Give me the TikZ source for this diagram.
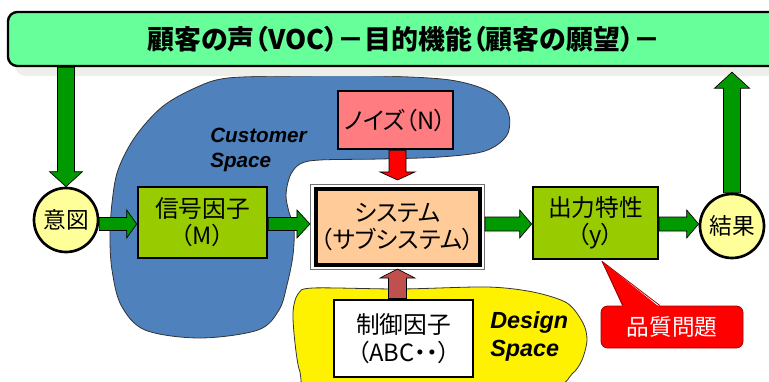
\documentclass[tikz,border=0pt]{standalone}
\usepackage{fontspec}
\setmainfont[RawFeature=+palt]{Noto Sans CJK JP}
\newfontfamily\latfont{Liberation Sans}
\usetikzlibrary{calc}
\definecolor{agreen}{HTML}{009900}
\definecolor{ygreen}{HTML}{99CC00}
\definecolor{cyellow}{HTML}{FFFF99}
\definecolor{bandc}{HTML}{66FF99}
\definecolor{shadowc}{HTML}{EFEFEA}
\definecolor{blobblue}{HTML}{4F81BD}
\definecolor{noisec}{HTML}{FF7C80}
\definecolor{sysfill}{HTML}{FFCC99}
\definecolor{brownc}{HTML}{C0504D}
\definecolor{callred}{HTML}{FF0000}
\definecolor{callborder}{HTML}{A00000}
% horizontal block arrow: start, tip, shaft half, head half, head length, style
\newcommand\harr[6]{%
  \path[#6] let \p1=(#1), \p2=(#2), \n1={sign(\x2-\x1)} in
   (\x1,{\y2+#3*0.75pt}) -- ({\x2-(\n1)*#5*0.75pt},{\y2+#3*0.75pt})
   -- ({\x2-(\n1)*#5*0.75pt},{\y2+#4*0.75pt}) -- (\x2,\y2)
   -- ({\x2-(\n1)*#5*0.75pt},{\y2-#4*0.75pt}) -- ({\x2-(\n1)*#5*0.75pt},{\y2-#3*0.75pt})
   -- (\x1,{\y2-#3*0.75pt}) -- cycle;}
% vertical block arrow
\newcommand\varr[6]{%
  \path[#6] let \p1=(#1), \p2=(#2), \n1={sign(\y2-\y1)} in
   ({\x2+#3*0.75pt},\y1) -- ({\x2+#3*0.75pt},{\y2-(\n1)*#5*0.75pt})
   -- ({\x2+#4*0.75pt},{\y2-(\n1)*#5*0.75pt}) -- (\x2,\y2)
   -- ({\x2-#4*0.75pt},{\y2-(\n1)*#5*0.75pt}) -- ({\x2-#3*0.75pt},{\y2-(\n1)*#5*0.75pt})
   -- ({\x2-#3*0.75pt},\y1) -- cycle;}
\begin{document}
\begin{tikzpicture}[x=0.75pt,y=-0.75pt,
  lbl/.style={font=\fontsize{17.8}{20.5}\selectfont, align=center, inner sep=0pt},
  gbox/.style={lbl, draw=black, line width=2pt, fill=ygreen},
  circ/.style={lbl, font=\fontsize{17}{20}\selectfont, circle, draw=black, line width=2pt, fill=cyellow, minimum size=48pt},
  garr/.style={fill=agreen, draw=black, line width=0.5pt},
  rarr/.style={fill=red, draw=black, line width=0.5pt},
  barr/.style={fill=brownc, draw=black, line width=0.5pt},
  blob/.style={draw=black!80, line width=0.6pt},
  spacelbl/.style={font=\latfont\bfseries\itshape, align=left, inner sep=0pt, anchor=west}]
\useasboundingbox (0,0) rectangle (769,382);
\clip (0,0) rectangle (769,382);

% blobs
\draw[blob, fill=blobblue] plot[smooth cycle, tension=0.55] coordinates {
 (228,78) (300,76) (380,76) (450,80) (490,92) (508,112) (507,135) (485,151)
 (440,157) (380,159) (320,160) (300,164) (290,176) (286,195) (289,212) (294,228)
 (293,255) (287,285) (279,310) (258,330) (200,338) (145,330) (121,305) (112,270)
 (110,237) (112,203) (118,170) (135,137) (162,107) (195,88)};
\draw[blob, fill=yellow] plot[smooth cycle, tension=0.5] coordinates {
 (313,288) (400,289) (487,287) (533,292) (567,303) (583,323) (587,340) (582,360)
 (572,374) (548,388) (420,394) (313,390) (300,372) (295,343) (293,312) (298,294)};

% top band
\node[draw=none, fill=shadowc, rounded corners=8pt, minimum width=586.5pt, minimum height=40.5pt] (bandshadow) at (406,49) {};
\node[draw=black, line width=1.8pt, fill=bandc, rounded corners=7pt, minimum width=586.5pt, minimum height=40.5pt] (band) at (399,39) {};
\node[font=\bfseries\fontsize{20.2}{22}\selectfont, inner sep=0pt] (title) at (404,39) {顧客の声（VOC）－目的機能（顧客の願望）－};

% space labels
\node[spacelbl, font=\latfont\bfseries\itshape\fontsize{15.5}{18.75}\selectfont] (cspace) at (210,150) {Customer\\Space};
\node[spacelbl, font=\latfont\bfseries\itshape\fontsize{17.5}{21}\selectfont] (dspace) at (490,336) {Design\\Space};

% nodes
\node[circ] (intent) at (66,220) {意図};
\node[circ] (result) at (732,226) {結果};
\node[gbox, minimum width=96.75pt, minimum height=53.25pt] (signal) at (202.5,222.5) {信号因子\\（M）};
\node[gbox, minimum width=93.75pt, minimum height=54pt] (output) at (595.5,223) {出力特性\\（y）};
\node[draw=black!55, line width=0.8pt, fill=white, minimum width=130.5pt, minimum height=63.75pt] (sysframe) at (397.5,227) {};
\node[lbl, draw=black, line width=3pt, fill=sysfill, minimum width=123pt, minimum height=57pt] (system) at (397.5,227) {システム\\（サブシステム）};
\node[lbl, draw=black, line width=2pt, fill=noisec, minimum width=86.25pt, minimum height=43.5pt] (noise) at (395.5,120) {ノイズ（N）};
\node[lbl, draw=black, line width=2.2pt, fill=white, minimum width=104.25pt, minimum height=57.75pt] (control) at (403.5,338.5) {制御因子\\（ABC・・）};
\node[lbl, text=white, font=\fontsize{17}{20}\selectfont, draw=callborder, line width=0.6pt, fill=callred, rounded corners=5pt, minimum width=106.5pt, minimum height=31.5pt] (issue) at (672,327) {品質問題};
% callout pointer
\coordinate (ptip) at ($(output.south)+(6.5,1)$);
\fill[callred] ($(issue.north)+(-49,2)$) -- (ptip) -- ($(issue.north)+(-12,2)$) -- cycle;
\draw[callborder, line width=0.6pt, line join=round] ($(issue.north)+(-49,0)$) -- (ptip) -- ($(issue.north)+(-12,0)$);

% arrows
\varr{intent |- band.south}{intent.north}{8.5}{16.5}{15}{garr}
\varr{result.north}{$(result |- band.south)+(0,5)$}{8.5}{17.5}{16}{garr}
\harr{intent.east}{signal.west |- 0,224}{6.5}{14}{10}{garr}
\harr{signal.east}{sysframe.west |- 0,224}{6.5}{14}{13}{garr}
\harr{sysframe.east}{output.west |- 0,224}{7}{14}{12}{garr}
\harr{output.east}{result.west |- 0,224}{7}{14}{12}{garr}
\varr{noise.south}{$(sysframe.north)+(0,-4)$}{8.5}{17.5}{8}{rarr}
\varr{sysframe.south |- control.north}{$(sysframe.south)+(0,-1)$}{9}{17.5}{9}{barr}
\end{tikzpicture}
\end{document}
